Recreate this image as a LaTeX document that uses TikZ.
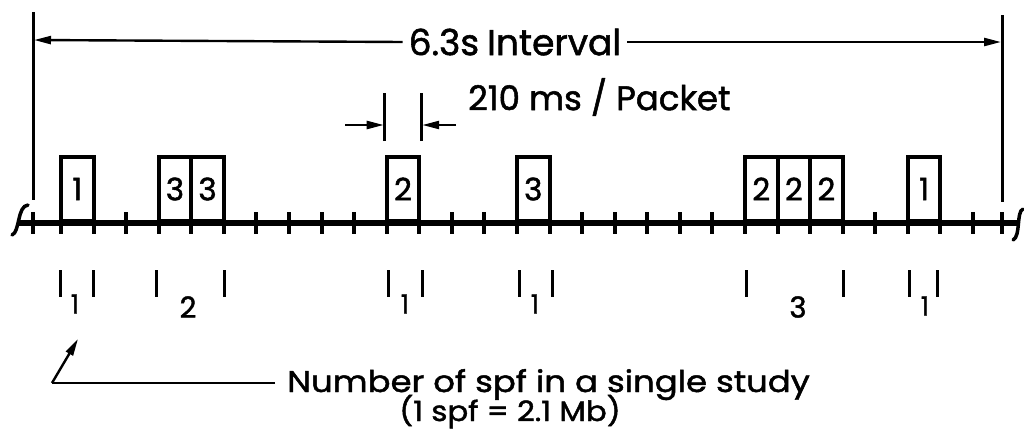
\documentclass[tikz,border=0pt]{standalone}
\usepackage{fontspec}
\setmainfont{Poppins}[UprightFeatures={FakeBold=1.5}]
\usetikzlibrary{arrows.meta}
\begin{document}
\begin{tikzpicture}[x=1pt,y=-1pt,
  axisline/.style={line width=5.5pt},
  tickmark/.style={line width=4pt},
  pkt/.style={draw,line width=4pt,minimum width=32.5pt,minimum height=64pt,inner sep=0pt,anchor=south,font=\fontsize{31}{31}\selectfont},
  dimline/.style={line width=2.4pt},
  tip/.style={-{Triangle[length=17pt,width=8pt]}},
  bigtxt/.style={font=\fontsize{34}{34}\selectfont,inner sep=0pt},
  legtxt/.style={font=\fontsize{30}{30}\selectfont,inner sep=0pt},
  brk/.style={line width=3.5pt},
  numtxt/.style={font=\fontsize{29}{29}\selectfont,inner sep=0pt},
  smalltxt/.style={font=\fontsize{26}{26}\selectfont,inner sep=0pt},
  barline/.style={line width=3pt}
]
\useasboundingbox (0,0) rectangle (1024,429);
% axis
\draw[axisline] (18,223) -- (1020,223);
\draw[brk,line cap=round] (12,235) .. controls (20,232) and (17,206) .. (28,205);
\draw[brk,line cap=round] (1023,209) .. controls (1016,212) and (1021,236) .. (1013,240);
% ticks
\draw[tickmark] (33,212) -- (33,234);
\draw[tickmark] (1002,212) -- (1002,234);
\foreach \k in {0,...,28}{
  \draw[tickmark] ({61+32.57*\k},212) -- ({61+32.57*\k},234);
}
% packets
\node[pkt] (p1) at ({61+32.57*0.5},223) {1};
\node[pkt] (p3a) at ({61+32.57*3.5},223) {3};
\node[pkt] (p3b) at ({61+32.57*4.5},223) {3};
\node[pkt] (p2) at ({61+32.57*10.5},223) {2};
\node[pkt] (p3c) at ({61+32.57*14.5},223) {3};
\node[pkt] (p2a) at ({61+32.57*21.5},223) {2};
\node[pkt] (p2b) at ({61+32.57*22.5},223) {2};
\node[pkt] (p2c) at ({61+32.57*23.5},223) {2};
\node[pkt] (p1b) at ({61+32.57*26.5},223) {1};
% interval
\draw[line width=3pt] (33,12) -- (33,200);
\draw[line width=3pt] (1002,15) -- (1002,202);
\node[bigtxt,font=\fontsize{36}{36}\selectfont] (int) at (515,42) {6.3s\hspace{8pt}Interval};
\coordinate (intL) at (34,40);
\coordinate (intR) at (1001,42);
\draw[dimline,tip] ([xshift=-6pt]int.west) -- (intL);
\draw[dimline,tip] ([xshift=6pt]int.east) -- (intR);
% packet width
\node[bigtxt,anchor=west] (pkttxt) at (468,97) {210 ms / Packet};
\draw[barline] (p2.north west) ++(0,-14) -- ++(0,-48);
\draw[barline] (p2.north east) ++(0,-14) -- ++(0,-48);
\coordinate (aL) at (345,125);
\coordinate (aR) at (456,125);
\draw[dimline,tip] (aL) -- ([xshift=-1pt]p2.north west |- aL);
\draw[dimline,tip] (aR) -- ([xshift=1pt]p2.north east |- aR);
% study brackets
\foreach \xa/\xb in {60/93,156/224,388/422,519/552,746/843,909/937}{
  \draw[barline] (\xa,270) -- (\xa,297);
  \draw[barline] (\xb,270) -- (\xb,297);
}
\node[smalltxt] (s1) at (75,304) {1};
\node[numtxt] (s2) at (188,307) {2};
\node[smalltxt] (s3) at (405,304) {1};
\node[smalltxt] (s4) at (535,304) {1};
\node[numtxt] (s5) at (798,307) {3};
\node[smalltxt] (s6) at (925,306) {1};
% legend
\node[legtxt,anchor=base west] (num) at (287,392) {\scalebox{1.13}[1]{Number of spf in a single study}};
\node[legtxt,anchor=base,font=\fontsize{28}{28}\selectfont] (mb) at (510,421) {\scalebox{1.1}[1]{(1 spf = 2.1 Mb)}};
\coordinate (corner) at (52,383);
\coordinate (legtip) at (78,339);
\draw[dimline] ([xshift=-12pt]num.base west |- corner) -- (corner);
\draw[dimline,tip] (corner) -- (legtip);
\end{tikzpicture}
\end{document}
